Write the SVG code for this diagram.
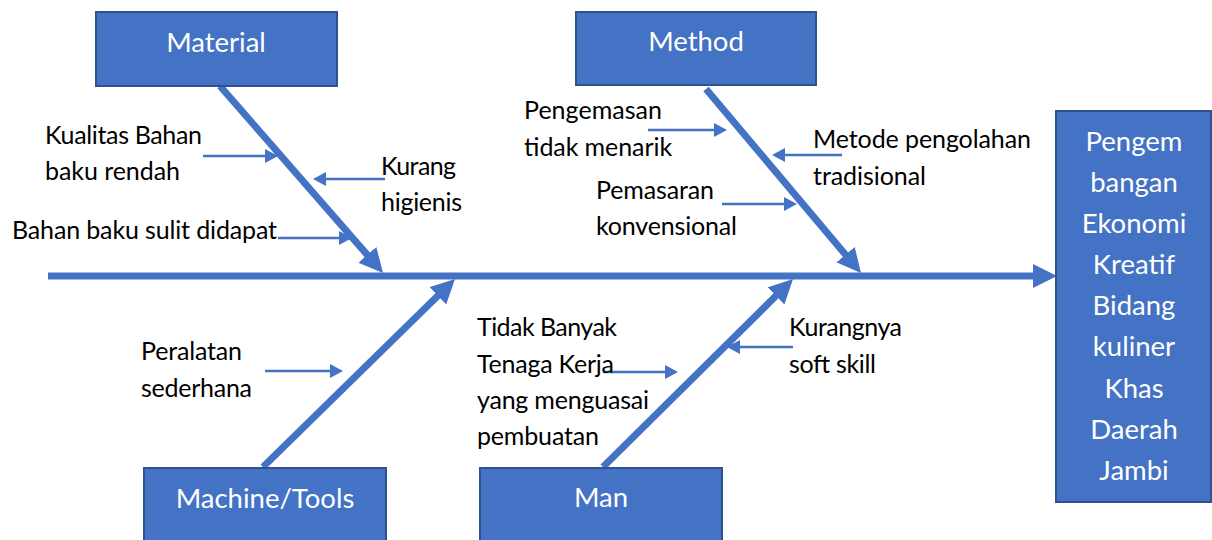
<svg xmlns="http://www.w3.org/2000/svg" width="1212" height="540" viewBox="0 0 1212 540">
<style>
.box{fill:#4472C4;stroke:#2F528F;stroke-width:2}
.bt{font-family:Lato,"Liberation Sans",sans-serif;font-size:27.5px;fill:#ffffff;text-anchor:middle}
.lb{font-family:Lato,"Liberation Sans",sans-serif;font-size:25px;fill:#000000}
.bone{stroke:#4472C4;stroke-width:7;fill:none;marker-end:url(#big)}
.sub{stroke:#4472C4;stroke-width:2.5;fill:none;marker-end:url(#small)}
</style>
<defs>
<marker id="big" markerUnits="userSpaceOnUse" viewBox="0 0 24 24" markerWidth="24" markerHeight="24" refX="4" refY="12" orient="auto">
<path d="M0,0 L24,12 L0,24 z" fill="#4472C4"/>
</marker>
<marker id="small" markerUnits="userSpaceOnUse" viewBox="0 0 13 14" markerWidth="13" markerHeight="14" refX="3" refY="7" orient="auto">
<path d="M0,0 L13,7 L0,14 z" fill="#4472C4"/>
</marker>
</defs>
<rect width="1212" height="540" fill="#ffffff"/>

<g id="connectors">
<line class="bone" x1="48" y1="276" x2="1037" y2="276"/>
<line class="bone" x1="220" y1="86" x2="369.9" y2="257.9"/>
<line class="bone" x1="706" y1="89" x2="848.1" y2="257.7"/>
<line class="bone" x1="263" y1="467" x2="440.7" y2="293"/>
<line class="bone" x1="603" y1="467" x2="778.8" y2="293.1"/>
<line class="sub" x1="203" y1="156" x2="268" y2="156"/>
<line class="sub" x1="385" y1="179" x2="323" y2="179"/>
<line class="sub" x1="278" y1="238" x2="342" y2="238"/>
<line class="sub" x1="648" y1="130" x2="717" y2="130"/>
<line class="sub" x1="842" y1="155" x2="782" y2="155"/>
<line class="sub" x1="722" y1="204" x2="787" y2="204"/>
<line class="sub" x1="265" y1="371" x2="333" y2="371"/>
<line class="sub" x1="603" y1="372" x2="668" y2="372"/>
<line class="sub" x1="793" y1="347" x2="737" y2="347"/>
</g>

<g id="material">
<rect class="box" x="96" y="12" width="241" height="74"/>
<text class="bt" x="216" y="52">Material</text>
</g>
<g id="method">
<rect class="box" x="576" y="12" width="240" height="73"/>
<text class="bt" x="696" y="51">Method</text>
</g>
<g id="machine">
<rect class="box" x="144" y="468" width="242" height="80"/>
<text class="bt" x="265" y="508">Machine/Tools</text>
</g>
<g id="man">
<rect class="box" x="480" y="468" width="242" height="80"/>
<text class="bt" x="601" y="507">Man</text>
</g>
<g id="effect">
<rect class="box" x="1056" y="111" width="155" height="391"/>
<text class="bt" x="1134" y="151">Pengem</text>
<text class="bt" x="1134" y="192">bangan</text>
<text class="bt" x="1134" y="233">Ekonomi</text>
<text class="bt" x="1134" y="274">Kreatif</text>
<text class="bt" x="1134" y="315">Bidang</text>
<text class="bt" x="1134" y="356">kuliner</text>
<text class="bt" x="1134" y="398">Khas</text>
<text class="bt" x="1134" y="439">Daerah</text>
<text class="bt" x="1134" y="480">Jambi</text>
</g>

<g id="label-kualitas">
<text class="lb" x="45" y="144" textLength="157">Kualitas Bahan</text>
<text class="lb" x="45" y="180" textLength="135">baku rendah</text>
</g>
<g id="label-kurang">
<text class="lb" x="381" y="175" textLength="75">Kurang</text>
<text class="lb" x="381" y="211" textLength="81">higienis</text>
</g>
<g id="label-bahan">
<text class="lb" x="12" y="239" textLength="265">Bahan baku sulit didapat</text>
</g>
<g id="label-pengemasan">
<text class="lb" x="524" y="119" textLength="138">Pengemasan</text>
<text class="lb" x="524" y="156" textLength="148">tidak menarik</text>
</g>
<g id="label-pemasaran">
<text class="lb" x="596" y="199" textLength="118">Pemasaran</text>
<text class="lb" x="596" y="235" textLength="141">konvensional</text>
</g>
<g id="label-metode">
<text class="lb" x="813" y="148" textLength="218">Metode pengolahan</text>
<text class="lb" x="813" y="185" textLength="113">tradisional</text>
</g>
<g id="label-peralatan">
<text class="lb" x="141" y="360" textLength="101">Peralatan</text>
<text class="lb" x="141" y="397" textLength="111">sederhana</text>
</g>
<g id="label-tenaga">
<text class="lb" x="477" y="336" textLength="140">Tidak Banyak</text>
<text class="lb" x="477" y="373" textLength="137">Tenaga Kerja</text>
<text class="lb" x="477" y="409" textLength="172">yang menguasai</text>
<text class="lb" x="477" y="445" textLength="122">pembuatan</text>
</g>
<g id="label-kurangnya">
<text class="lb" x="789" y="336" textLength="113">Kurangnya</text>
<text class="lb" x="789" y="373" textLength="87">soft skill</text>
</g>
</svg>
